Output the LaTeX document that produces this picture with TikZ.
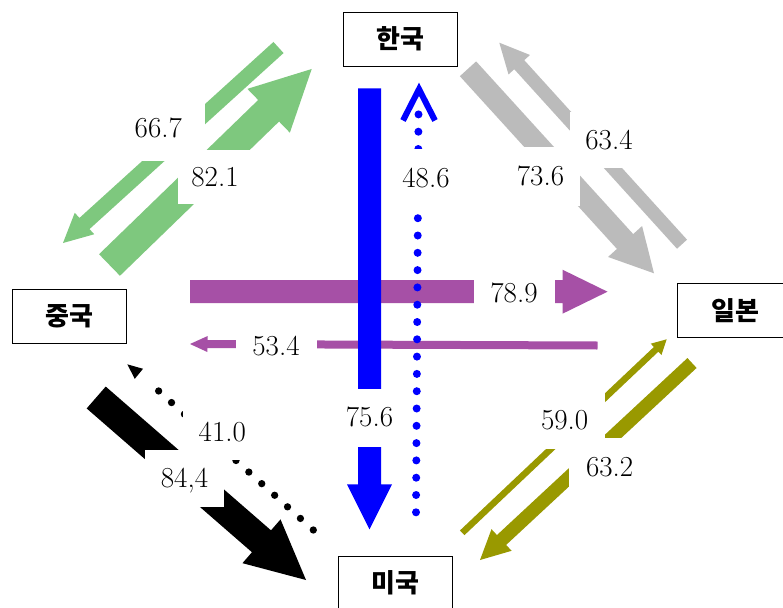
\documentclass[tikz,border=0pt]{standalone}
\usepackage{fontspec}
\newfontfamily\krfont{Noto Sans CJK KR}
\usetikzlibrary{calc}
\definecolor{cgreen}{RGB}{126,200,126}
\definecolor{cgray}{RGB}{187,187,187}
\definecolor{cpurple}{RGB}{166,80,166}
\definecolor{colive}{RGB}{153,153,0}
\definecolor{cblue}{RGB}{0,0,255}
% colour, start, tip, shaft width, head length, head width
\newcommand\blockarrow[6]{%
  \coordinate (tmpH) at ($(#3)!#5!(#2)$);
  \fill[#1] ($(#2)!#4/2!90:(#3)$) -- ($(tmpH)!#4/2!90:(#3)$) -- ($(tmpH)!#6/2!90:(#3)$) -- (#3)
    -- ($(tmpH)!#6/2!-90:(#3)$) -- ($(tmpH)!#4/2!-90:(#3)$) -- ($(#2)!#4/2!-90:(#3)$) -- cycle;}
\begin{document}
\begin{tikzpicture}[x=1pt,y=-1pt,
  country/.style={draw=black, line width=1pt, fill=white, minimum width=114.5pt, minimum height=54pt, inner sep=0pt, font=\krfont\bfseries\fontsize{26}{30}\selectfont},
  val/.style={font=\fontsize{29}{34}\selectfont, inner sep=0pt, text height=18.7pt, text depth=0pt},
  gapbox/.style={fill=white}]
\clip (0,0) rectangle (783,607);
\fill[white] (0,0) rectangle (783,607);
% country boxes
\node[country] (kr) at (400.5,39.2) {한국};
\node[country] (cn) at (69.3,316.3) {중국};
\node[country] (jp) at (735,310.3) {일본};
\node[country] (us) at (395.5,583) {미국};
% arrow end points
\coordinate (A1) at (278.5,47.5);  \coordinate (A2) at (63,243);
\coordinate (B1) at (109.5,265);   \coordinate (B2) at (311.7,69);
\coordinate (C1) at (468,68.8);    \coordinate (C2) at (654,273.3);
\coordinate (D1) at (682,244.2);   \coordinate (D2) at (499.3,42.7);
\coordinate (P1) at (190,291.7);   \coordinate (P2) at (607.5,291.7);
\coordinate (Q1) at (597.5,345.5); \coordinate (Q2) at (190,344);
\coordinate (U1) at (369.5,88.3);  \coordinate (U2) at (369.5,529.3);
\coordinate (E1) at (96.2,397.5);  \coordinate (E2) at (306,580);
\coordinate (G1) at (462.2,532.8); \coordinate (G2) at (666.7,339.3);
\coordinate (H1) at (692,363);     \coordinate (H2) at (480,560);
\coordinate (F1) at (313.3,530);   \coordinate (F2) at (146.2,379.8); \coordinate (FT) at (127.3,364.3);
\coordinate (V1) at (416,512.3);   \coordinate (V2) at (418.5,114.4); \coordinate (VT) at (419,89.2);
% arrows
\blockarrow{cpurple}{P1}{P2}{23pt}{45pt}{44pt}
\blockarrow{cpurple}{Q1}{Q2}{8pt}{17.5pt}{16pt}
\blockarrow{cgreen}{A1}{A2}{15pt}{29pt}{29pt}
\blockarrow{cgreen}{B1}{B2}{30pt}{60pt}{61pt}
\blockarrow{cgray}{C1}{C2}{22pt}{43pt}{46pt}
\blockarrow{cgray}{D1}{D2}{13.5pt}{29.7pt}{29pt}
\blockarrow{black}{E1}{E2}{29pt}{59pt}{58pt}
\blockarrow{colive}{G1}{G2}{6.5pt}{14.6pt}{15.6pt}
\blockarrow{colive}{H1}{H2}{13.5pt}{29.4pt}{29.5pt}
\blockarrow{cblue}{U1}{U2}{23pt}{45pt}{45pt}
% dotted arrows
\draw[cblue, line width=8pt, line cap=round, dash pattern=on 0pt off 17.3pt] (V1) -- (V2);
\draw[cblue, line width=6pt, line join=miter] ($(VT)+(-16,31.3)$) -- (VT) -- ($(VT)+(16,31.3)$);
\draw[black, line width=7.3pt, line cap=round, dash pattern=on 0pt off 17.33pt] (F1) -- (F2);
\coordinate (FH) at ($(FT)!15pt!(F2)$);
\fill[black] (FT) -- ($(FH)!6.5pt!90:(FT)$) -- ($(FH)!6.5pt!-90:(FT)$) -- cycle;
% white gaps under the labels
\fill[gapbox] (125,100) rectangle (205,160.5);
\fill[gapbox] (178,150) rectangle (252,203.5);
\fill[gapbox] (387,149) rectangle (465,207);
\fill[gapbox] (501,147.3) rectangle (580,205.5);
\fill[gapbox] (570,111.7) rectangle (648,168.3);
\fill[gapbox] (474,264) rectangle (555,320);
\fill[gapbox] (236,318) rectangle (316.5,374);
\fill[gapbox] (333,389) rectangle (406,446.7);
\fill[gapbox] (182.5,403) rectangle (262,459.5);
\fill[gapbox] (145,450) rectangle (224,506.6);
\fill[gapbox] (524.7,390.7) rectangle (605,449.3);
\fill[gapbox] (569.3,438.3) rectangle (650,496.3);
% values
\node[val] (v1) at (158.3,128.6) {66.7};
\node[val] (v2) at (215,177) {82.1};
\node[val] (v3) at (426,178) {48.6};
\node[val] (v4) at (540.5,176.3) {73.6};
\node[val] (v5) at (609,140) {63.4};
\node[val] (v6) at (514,293) {78.9};
\node[val] (v7) at (276,346) {53.4};
\node[val] (v8) at (369.5,417.5) {75.6};
\node[val] (v9) at (222.3,431.7) {41.0};
\node[val] (v10) at (184.5,478.3) {84,4};
\node[val] (v11) at (564.7,420) {59.0};
\node[val] (v12) at (609.7,467.3) {63.2};
\end{tikzpicture}
\end{document}
